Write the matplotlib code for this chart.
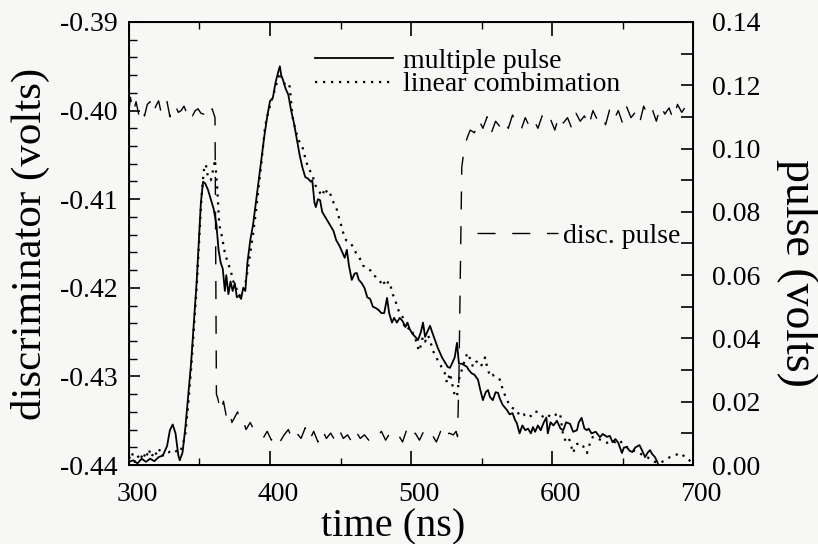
import matplotlib
matplotlib.use("Agg")
import matplotlib.pyplot as plt
from matplotlib.ticker import MultipleLocator, FormatStrFormatter
from matplotlib.transforms import ScaledTranslation

plt.rcParams['font.family'] = ['Liberation Serif', 'DejaVu Serif']
plt.rcParams['axes.unicode_minus'] = False

# multiple pulse response (right axis, volts)
t_multi = [300, 303, 306, 309, 312, 315, 318, 321, 324, 327, 329, 331, 333, 335, 336, 338,
           340, 342, 344, 346, 348, 350, 351, 352.5, 354, 356, 358, 360, 362, 363.5, 365,
           366.5, 368, 369, 370.5, 372, 373.5, 375, 376.5, 378, 379.5, 381, 382.5, 384, 386,
           388, 390, 392, 394, 396, 398, 400, 402, 404, 406, 407, 408, 409, 411, 413, 415,
           417, 419, 421, 423, 425, 427, 429, 430, 431.5, 432.5, 434, 435.5, 437, 439, 441,
           443, 445, 447, 449, 451, 453, 454.5, 456, 458, 460, 461.5, 463, 465, 467, 469,
           471, 473, 475, 477, 479, 481, 483, 484.5, 486.5, 488, 490, 492, 494, 496, 497.5,
           499, 501, 503, 505, 507, 508.5, 510, 511.5, 513.5, 515, 517, 519, 520.5, 522, 524,
           526, 527.6, 529, 531, 532.6, 534, 536, 538, 539.7, 541, 543, 545, 547.5, 549, 551,
           553, 554.6, 556, 558, 560, 561.7, 563, 565, 568, 570, 572, 573.8, 575, 577, 579,
           581, 583, 585, 586.5, 588, 590, 592, 594, 596, 597, 599, 601, 603.5, 606, 608, 610,
           612.8, 615, 617.7, 619, 621, 623, 624.8, 626, 628, 631, 634, 636, 639, 641, 643,
           645, 647, 649.6, 651, 653, 655, 657, 659, 662, 664, 666, 668, 669.5, 671, 673, 675]
v_multi = [0.0010, 0.0015, 0.0005, 0.0020, 0.0010, 0.0020, 0.0012, 0.0025, 0.0030, 0.0060,
           0.0110, 0.0128, 0.0100, 0.0030, 0.0015, 0.0040, 0.0120, 0.0220, 0.0320, 0.0450,
           0.0580, 0.0750, 0.0830, 0.0895, 0.0890, 0.0870, 0.0840, 0.0810, 0.0760, 0.0680,
           0.0640, 0.0620, 0.0550, 0.0600, 0.0540, 0.0580, 0.0550, 0.0575, 0.0530, 0.0535,
           0.0525, 0.0560, 0.0550, 0.0640, 0.0710, 0.0760, 0.0830, 0.0900, 0.0970, 0.1040,
           0.1100, 0.1150, 0.1160, 0.1210, 0.1245, 0.1260, 0.1230, 0.1220, 0.1190, 0.1170,
           0.1120, 0.1080, 0.1030, 0.0980, 0.0940, 0.0910, 0.0905, 0.0895, 0.0900, 0.0830,
           0.0815, 0.0840, 0.0837, 0.0800, 0.0785, 0.0770, 0.0755, 0.0740, 0.0710, 0.0695,
           0.0675, 0.0655, 0.0680, 0.0630, 0.0585, 0.0605, 0.0607, 0.0585, 0.0575, 0.0560,
           0.0530, 0.0525, 0.0500, 0.0496, 0.0490, 0.0480, 0.0480, 0.0528, 0.0480, 0.0450,
           0.0465, 0.0450, 0.0465, 0.0455, 0.0436, 0.0450, 0.0430, 0.0415, 0.0405, 0.0395,
           0.0420, 0.0450, 0.0405, 0.0420, 0.0440, 0.0420, 0.0395, 0.0370, 0.0355, 0.0340,
           0.0325, 0.0310, 0.0307, 0.0320, 0.0340, 0.0386, 0.0320, 0.0320, 0.0315, 0.0310,
           0.0300, 0.0290, 0.0285, 0.0270, 0.0240, 0.0205, 0.0230, 0.0237, 0.0215, 0.0205,
           0.0230, 0.0228, 0.0210, 0.0190, 0.0174, 0.0160, 0.0164, 0.0142, 0.0133, 0.0100,
           0.0125, 0.0110, 0.0115, 0.0100, 0.0120, 0.0105, 0.0125, 0.0110, 0.0133, 0.0150,
           0.0100, 0.0135, 0.0125, 0.0140, 0.0115, 0.0110, 0.0135, 0.0130, 0.0105, 0.0110,
           0.0135, 0.0149, 0.0115, 0.0110, 0.0115, 0.0100, 0.0105, 0.0088, 0.0098, 0.0089,
           0.0092, 0.0072, 0.0082, 0.0070, 0.0038, 0.0055, 0.0057, 0.0045, 0.0041, 0.0055,
           0.0063, 0.0045, 0.0025, 0.0040, 0.0047, 0.0035, 0.0025, 0.0006]

# linear combination of single pulses (right axis, volts)
t_lin = [300, 302, 304, 306, 308, 310, 312, 314, 316, 318, 320, 322, 324, 326, 328, 330,
         332, 334, 336, 338, 340, 342, 344, 346, 348, 350, 351.5, 353, 354.5, 356, 358, 360,
         361, 362.5, 364, 366, 368, 370, 372, 374, 376, 378, 380, 382, 384, 386, 388, 390,
         392, 394, 396.5, 399, 401, 403, 405, 407, 409, 411, 413, 414, 416, 418, 420, 422,
         423, 425, 427, 429, 430.5, 432, 434, 435.5, 437, 439, 441, 442.5, 444, 446, 447.5,
         449, 451, 452, 454, 456, 458, 459, 461, 463, 464, 466, 468, 471, 473, 475, 477, 479,
         480, 482, 484, 485, 487, 489, 490, 492, 494, 495.5, 497, 499, 501, 503, 505, 506,
         507.5, 508.5, 510, 512, 513.5, 515.6, 517, 519, 521, 522.7, 524, 525.5, 527.7, 529,
         531, 532.6, 534, 536, 538, 540, 542, 544, 546, 548, 550, 552.5, 554, 556, 558, 560,
         563, 565, 568, 570, 572, 575, 577, 580, 582, 585, 588, 591.5, 594, 597, 600, 603,
         605.7, 608, 610, 612, 615, 617, 620, 622, 624.8, 627, 629, 632, 635, 639, 642, 645,
         648, 651, 654, 657, 660, 663, 667, 670, 673, 676.6, 680, 683.7, 687, 690.8, 693,
         695.7, 699]
v_lin = [0.0020, 0.0040, 0.0010, 0.0030, 0.0015, 0.0040, 0.0020, 0.0050, 0.0025, 0.0045,
         0.0030, 0.0050, 0.0030, 0.0040, 0.0040, 0.0045, 0.0040, 0.0045, 0.0040, 0.0060,
         0.0100, 0.0190, 0.0300, 0.0430, 0.0560, 0.0730, 0.0850, 0.0930, 0.0950, 0.0910,
         0.0900, 0.0940, 0.0965, 0.0880, 0.0760, 0.0720, 0.0670, 0.0640, 0.0616, 0.0580,
         0.0560, 0.0535, 0.0540, 0.0560, 0.0610, 0.0670, 0.0730, 0.0800, 0.0880, 0.0960,
         0.1070, 0.1120, 0.1150, 0.1180, 0.1210, 0.1240, 0.1215, 0.1200, 0.1205, 0.1195,
         0.1100, 0.1060, 0.1030, 0.1010, 0.1005, 0.0970, 0.0940, 0.0925, 0.0910, 0.0885,
         0.0870, 0.0860, 0.0850, 0.0875, 0.0855, 0.0860, 0.0840, 0.0820, 0.0806, 0.0780,
         0.0750, 0.0733, 0.0710, 0.0705, 0.0695, 0.0690, 0.0670, 0.0660, 0.0650, 0.0630,
         0.0625, 0.0616, 0.0600, 0.0595, 0.0585, 0.0575, 0.0585, 0.0565, 0.0580, 0.0575,
         0.0540, 0.0520, 0.0500, 0.0480, 0.0468, 0.0435, 0.0427, 0.0435, 0.0420, 0.0400,
         0.0370, 0.0360, 0.0390, 0.0405, 0.0390, 0.0410, 0.0395, 0.0360, 0.0350, 0.0330,
         0.0315, 0.0300, 0.0290, 0.0260, 0.0290, 0.0260, 0.0220, 0.0215, 0.0270, 0.0300,
         0.0330, 0.0354, 0.0335, 0.0310, 0.0325, 0.0330, 0.0315, 0.0340, 0.0310, 0.0280,
         0.0285, 0.0275, 0.0270, 0.0240, 0.0205, 0.0190, 0.0180, 0.0174, 0.0155, 0.0160,
         0.0150, 0.0155, 0.0170, 0.0164, 0.0150, 0.0158, 0.0150, 0.0160, 0.0164, 0.0089,
         0.0075, 0.0085, 0.0038, 0.0065, 0.0070, 0.0060, 0.0038, 0.0070, 0.0089, 0.0085,
         0.0078, 0.0070, 0.0075, 0.0072, 0.0079, 0.0060, 0.0055, 0.0047, 0.0042, 0.0035,
         0.0025, 0.0020, 0.0010, 0.0006, 0.0015, 0.0025, 0.0030, 0.0038, 0.0030, 0.0025,
         0.0006]

# discriminator output (left axis, volts)
t_disc = [300, 301, 303, 305, 307, 309, 311, 313, 315, 317, 319, 321, 323, 325, 327, 329,
          331, 333, 335, 337, 339, 341, 343, 345, 347, 349, 351, 353, 355, 357, 359, 361,
          362, 363, 365, 367, 369, 371, 373, 375, 377, 379, 381, 383, 386, 389, 392, 395,
          398, 401, 404, 407, 410, 413, 416, 419, 422, 425, 428, 431, 434, 437, 440, 443,
          446, 449, 452, 455, 458, 461, 464, 467, 470, 473, 476, 479, 482, 485, 488, 491,
          494, 497, 500, 503, 506, 509, 512, 515, 518, 521, 524, 527, 530, 532, 533, 534,
          536, 538, 540, 542, 545, 548, 551, 554, 557, 560, 563, 566, 569, 572, 575, 578,
          581, 584, 587, 590, 593, 596, 599, 602, 605, 608, 611, 614, 617, 620, 623, 626,
          629, 632, 635, 638, 641, 644, 647, 650, 653, 656, 659, 662, 665, 668, 671, 674,
          677, 680, 683, 686, 689, 692, 695, 698]
v_disc = [-0.4000, -0.3985, -0.4002, -0.3990, -0.4005, -0.3996, -0.4006, -0.3993, -0.3990,
          -0.4003, -0.3995, -0.3989, -0.4004, -0.3998, -0.3990, -0.4007, -0.3993, -0.3995,
          -0.4002, -0.4000, -0.3995, -0.4003, -0.3997, -0.4006, -0.4000, -0.3998, -0.4003,
          -0.4004, -0.3997, -0.4003, -0.3998, -0.4008, -0.4320, -0.4325, -0.4340, -0.4328,
          -0.4345, -0.4338, -0.4352, -0.4346, -0.4340, -0.4352, -0.4350, -0.4360, -0.4352,
          -0.4362, -0.4366, -0.4370, -0.4362, -0.4372, -0.4365, -0.4374, -0.4366, -0.4360,
          -0.4372, -0.4364, -0.4370, -0.4358, -0.4372, -0.4362, -0.4374, -0.4360, -0.4370,
          -0.4364, -0.4372, -0.4360, -0.4370, -0.4366, -0.4374, -0.4362, -0.4370, -0.4366,
          -0.4372, -0.4365, -0.4368, -0.4362, -0.4372, -0.4364, -0.4370, -0.4366, -0.4374,
          -0.4360, -0.4370, -0.4364, -0.4372, -0.4362, -0.4370, -0.4366, -0.4374, -0.4362,
          -0.4372, -0.4364, -0.4366, -0.4362, -0.4368, -0.4300, -0.4064, -0.4040, -0.4030,
          -0.4022, -0.4025, -0.4010, -0.4020, -0.4007, -0.4025, -0.4012, -0.4018, -0.4010,
          -0.4020, -0.4005, -0.4015, -0.4022, -0.4008, -0.4018, -0.4010, -0.4020, -0.4006,
          -0.4016, -0.4010, -0.4022, -0.4005, -0.4014, -0.4008, -0.4020, -0.4003, -0.4012,
          -0.4006, -0.4018, -0.4000, -0.4010, -0.4004, -0.4016, -0.3998, -0.4010, -0.4000,
          -0.4014, -0.3996, -0.4008, -0.4002, -0.4015, -0.3995, -0.4006, -0.3998, -0.4012,
          -0.3994, -0.4004, -0.3997, -0.4010, -0.3993, -0.4002, -0.3995, -0.3993]

fig = plt.figure(figsize=(8.18, 5.44), dpi=100, facecolor='#f7f8f6')
ax = fig.add_axes([0.1577, 0.1452, 0.6895, 0.8144])
ax.set_facecolor('#f7f8f6')
ax2 = ax.twinx()

# discriminator trace on the left scale
disc_line, = ax.plot(t_disc, v_disc, color='black', lw=1.0, dashes=(13, 12))

# pulses on the right scale
multi_line, = ax2.plot(t_multi, v_multi, color='black', lw=1.3)
lin_line, = ax2.plot(t_lin, v_lin, color='black', lw=1.6, dashes=(1.0, 2.6))

ax.set_xlim(300, 700)
ax.set_ylim(-0.44, -0.39)
ax2.set_ylim(0.0, 0.14)

ax.xaxis.set_major_locator(MultipleLocator(100))
ax.xaxis.set_minor_locator(MultipleLocator(50))
ax.yaxis.set_major_locator(MultipleLocator(0.01))
ax.yaxis.set_minor_locator(MultipleLocator(0.002))
ax.yaxis.set_major_formatter(FormatStrFormatter('%.2f'))
ax2.yaxis.set_major_locator(MultipleLocator(0.02))
ax2.yaxis.set_minor_locator(MultipleLocator(0.01))
ax2.yaxis.set_major_formatter(FormatStrFormatter('%.2f'))

ax.tick_params(axis='x', which='both', direction='in', top=True, labelsize=20, pad=12)
ax.tick_params(axis='x', which='major', length=10, width=1.2)
ax.tick_params(axis='x', which='minor', length=5, width=1.0)
ax.tick_params(axis='y', which='major', direction='in', length=8, width=1.2, labelsize=20, pad=8)
ax.tick_params(axis='y', which='minor', direction='in', length=6, width=1.0)
ax2.tick_params(axis='y', which='both', direction='in', length=9, width=1.2, labelsize=20, pad=14)

for s in ax.spines.values():
    s.set_linewidth(1.4)

# x tick labels sit a little right of their ticks
shift = ScaledTranslation(0.08, 0, fig.dpi_scale_trans)
for lab in ax.get_xticklabels():
    lab.set_transform(lab.get_transform() + shift)

ax.set_xlabel('time (ns)', fontsize=29, va='center')
ax.xaxis.set_label_coords(0.469, -0.14)
ax.set_ylabel('discriminator (volts)', fontsize=31, va='center')
ax.yaxis.set_label_coords(-0.174, 0.5)
ax2.set_ylabel('pulse (volts)', fontsize=33, rotation=270, va='center')
ax2.yaxis.set_label_coords(1.184, 0.433)

leg1 = ax2.legend([multi_line, lin_line], ['multiple pulse', 'linear combimation'],
                  loc='upper left', bbox_to_anchor=(0.33, 0.94), frameon=False,
                  fontsize=20, handlelength=2.8, handletextpad=0.35,
                  labelspacing=-0.08, borderpad=0, borderaxespad=0)
ax2.add_artist(leg1)
ax2.legend([disc_line], ['disc. pulse'], loc='center left', bbox_to_anchor=(0.617, 0.517),
           frameon=False, fontsize=20, handlelength=2.9, handletextpad=0.2,
           borderpad=0, borderaxespad=0)

fig.savefig('out.png', dpi=100, facecolor=fig.get_facecolor())
